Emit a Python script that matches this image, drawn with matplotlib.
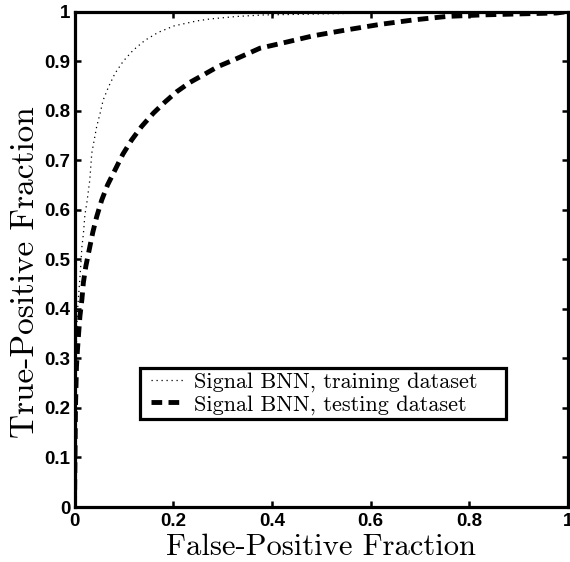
import matplotlib.pyplot as plt
import numpy as np
from matplotlib.patches import Rectangle

# ROC curves
train_fpf = [0.0, 0.001, 0.002, 0.004, 0.0057, 0.0097, 0.0125, 0.015, 0.018, 0.021,
             0.025, 0.031, 0.035, 0.040, 0.045, 0.052, 0.058, 0.069, 0.082, 0.099,
             0.119, 0.143, 0.170, 0.202, 0.248, 0.275, 0.329, 0.382, 0.6, 0.8, 1.0]
train_tpf = [0.0, 0.15, 0.25, 0.33, 0.391, 0.445, 0.485, 0.525, 0.551, 0.589,
             0.614, 0.66, 0.714, 0.741, 0.768, 0.795, 0.821, 0.848, 0.875, 0.900,
             0.922, 0.942, 0.958, 0.971, 0.981, 0.985, 0.990, 0.993, 0.997, 1.0, 1.0]

test_fpf = [0.0, 0.001, 0.002, 0.004, 0.006, 0.0085, 0.011, 0.015, 0.018, 0.023,
            0.030, 0.037, 0.045, 0.055, 0.067, 0.082, 0.098, 0.116, 0.136, 0.160,
            0.183, 0.207, 0.234, 0.261, 0.291, 0.322, 0.349, 0.376, 0.420, 0.484,
            0.552, 0.619, 0.687, 0.754, 0.822, 0.896, 0.977, 1.0]
test_tpf = [0.0, 0.1, 0.2, 0.283, 0.317, 0.352, 0.385, 0.419, 0.453, 0.486,
            0.520, 0.554, 0.586, 0.619, 0.650, 0.680, 0.712, 0.741, 0.768, 0.795,
            0.817, 0.838, 0.857, 0.872, 0.889, 0.902, 0.914, 0.926, 0.936, 0.951,
            0.963, 0.974, 0.983, 0.990, 0.993, 0.995, 0.997, 1.0]

labels = ["Signal BNN, training dataset", "Signal BNN, testing dataset"]
yticks = np.arange(0, 1.01, 0.1)
xticks = np.arange(0, 1.01, 0.2)

W, H = 570, 562
fig = plt.figure(figsize=(W / 100, H / 100), dpi=100)
# axes box in pixels: left 74.5, right 568, top 11.5, bottom 507
ax = fig.add_axes([74.5 / W, 1 - 507 / H, 493.5 / W, 495.5 / H])

ax.plot(train_fpf, train_tpf, color='black', linestyle=(0, (1, 3)), linewidth=0.9,
        label=labels[0])
ax.plot(test_fpf, test_tpf, color='black', linestyle=(0, (2.2, 1.3)), linewidth=3.5,
        label=labels[1])

ax.set_xlim(0, 1)
ax.set_ylim(0, 1)
ax.set_xticks(xticks)
ax.set_yticks(yticks)
ax.set_xticklabels(['0', '0.2', '0.4', '0.6', '0.8', '1'])
ax.set_yticklabels(['0'] + [f"{t:.1f}" for t in yticks[1:-1]] + ['1'])
for lab in ax.get_xticklabels() + ax.get_yticklabels():
    lab.set_fontfamily('Liberation Sans')
    lab.set_fontweight('bold')
    lab.set_fontsize(13.5)

ax.tick_params(direction='in', length=4, width=1.8, top=True, right=True)
ax.tick_params(axis='x', pad=4)
ax.tick_params(axis='y', pad=3)
for sp in ax.spines.values():
    sp.set_linewidth(2.3)

ax.set_xlabel('False-Positive Fraction', fontfamily='cmr10', fontsize=22)
ax.set_ylabel('True-Positive Fraction', fontfamily='cmr10', fontsize=24)
ax.xaxis.set_label_coords(0.5, -0.053, transform=ax.transAxes)
ax.yaxis.set_label_coords(-0.1, 0.474, transform=ax.transAxes)
ax.xaxis.label.set_va('top')
ax.yaxis.label.set_va('center')

# legend box is wider on the right than matplotlib pads it, so draw it separately
box = Rectangle((0.1327, 0.1776), 0.7416, 0.1029, transform=ax.transAxes,
                facecolor='white', edgecolor='black', linewidth=2.3, zorder=4.5)
ax.add_patch(box)
leg = ax.legend(loc='center left', bbox_to_anchor=(0.155, 0.229),
                prop={'family': 'cmr10', 'size': 16}, frameon=False,
                handlelength=1.5, handletextpad=0.45, borderpad=0.0, labelspacing=0.1,
                borderaxespad=0)
leg.set_zorder(5)

fig.savefig('out.png', dpi=100)
